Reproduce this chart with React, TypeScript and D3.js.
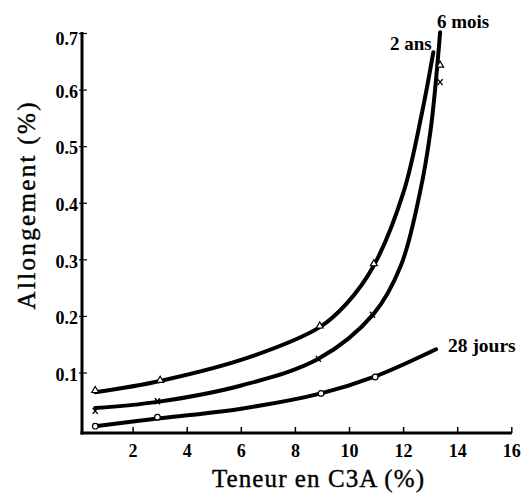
import React from "react";
import * as d3 from "d3";

const xTicks = [2, 4, 6, 8, 10, 12, 14, 16];
const yTicks = [0.1, 0.2, 0.3, 0.4, 0.5, 0.6, 0.7];

// curve paths [C3A %, allongement %]
const curve2ans: [number, number][] = [
  [0.6, 0.066], [3.0, 0.086], [6.3, 0.128], [8.9, 0.181], [9.9, 0.223], [10.9, 0.29],
  [12.0, 0.42], [12.68, 0.56], [13.1, 0.667],
];
const curve6mois: [number, number][] = [
  [0.6, 0.038], [2.9, 0.049], [6.0, 0.078], [8.85, 0.125], [10.9, 0.205],
  [11.9, 0.29], [12.6, 0.418], [13.0, 0.53], [13.35, 0.702],
];
const curve28j: [number, number][] = [
  [0.6, 0.006], [3.0, 0.02], [6.0, 0.037], [8.95, 0.064], [10.9, 0.093], [13.2, 0.142],
];

const pts2ans: [number, number][] = [[0.6, 0.07], [3.0, 0.088], [8.9, 0.184], [10.9, 0.294], [13.35, 0.645]];
const pts6mois: [number, number][] = [[0.6, 0.033], [2.9, 0.05], [8.85, 0.125], [10.85, 0.203], [13.35, 0.614]];
const pts28j: [number, number][] = [[0.6, 0.006], [2.9, 0.022], [8.95, 0.064], [10.95, 0.093]];

const W = 529;
const H = 493;

export default function App() {
  const x = d3.scaleLinear().domain([0, 16]).range([79, 511.8]);
  const y = d3.scaleLinear().domain([0, 0.7]).range([429.6, 33.5]);
  const line = d3
    .line<[number, number]>()
    .x((d) => x(d[0]))
    .y((d) => y(d[1]))
    .curve(d3.curveCatmullRom.alpha(0.5));

  const axisX = 82;
  const axisY = 433;
  const font = "'Liberation Serif', 'Times New Roman', serif";

  return (
    <svg
      width={W}
      height={H}
      style={{ position: "absolute", left: 0, top: 0, background: "#fff" }}
      fontFamily={font}
    >
      <rect x={0} y={0} width={W} height={H} fill="#fff" />
      {[curve2ans, curve6mois, curve28j].map((c, i) => (
        <path key={i} d={line(c) || ""} fill="none" stroke="#000" strokeWidth={4} strokeLinecap="round" />
      ))}
      {pts2ans.map((p, i) => {
        const cx = x(p[0]);
        const cy = y(p[1]);
        return (
          <path
            key={"t" + i}
            d={`M${cx},${cy - 3.5}L${cx + 3.5},${cy + 2.5}L${cx - 3.5},${cy + 2.5}Z`}
            fill="#fff"
            stroke="#000"
            strokeWidth={1.2}
          />
        );
      })}
      {pts6mois.map((p, i) => {
        const cx = x(p[0]);
        const cy = y(p[1]);
        return (
          <path
            key={"x" + i}
            d={`M${cx - 2.5},${cy - 3}L${cx + 2.5},${cy + 3}M${cx + 2.5},${cy - 3}L${cx - 2.5},${cy + 3}`}
            stroke="#000"
            strokeWidth={1.4}
          />
        );
      })}
      {pts28j.map((p, i) => (
        <circle key={"c" + i} cx={x(p[0])} cy={y(p[1])} r={2.8} fill="#fff" stroke="#000" strokeWidth={1.2} />
      ))}

      <line x1={axisX} y1={32} x2={axisX} y2={axisY + 1.5} stroke="#000" strokeWidth={3} />
      <line x1={axisX - 1.5} y1={axisY} x2={x(16)} y2={axisY} stroke="#000" strokeWidth={3} />
      {yTicks.map((t) => (
        <g key={"yt" + t}>
          <line x1={axisX - 3} x2={axisX + 5} y1={y(t)} y2={y(t)} stroke="#000" strokeWidth={1.2} />
          <text
            x={78}
            y={y(t) + (t === 0.7 ? 5 : 1.5)}
            dy="0.35em"
            textAnchor="end"
            fontSize={18}
            fontWeight="bold"
          >
            {t.toFixed(1)}
          </text>
        </g>
      ))}
      {xTicks.map((t) => (
        <g key={"xt" + t}>
          <line x1={x(t)} x2={x(t)} y1={axisY} y2={axisY - 6} stroke="#000" strokeWidth={1.5} />
          <text x={x(t)} y={457} textAnchor="middle" fontSize={18} fontWeight="bold">
            {t}
          </text>
        </g>
      ))}

      <text
        x={318}
        y={487}
        textAnchor="middle"
        fontSize={25}
        textLength={212}
        lengthAdjust="spacing"
        stroke="#000"
        strokeWidth={0.4}
      >
        Teneur en C3A (%)
      </text>
      <text
        transform={`translate(35,206) rotate(-90)`}
        textAnchor="middle"
        fontSize={25}
        textLength={207}
        lengthAdjust="spacing"
        stroke="#000"
        strokeWidth={0.4}
      >
        Allongement (%)
      </text>

      <text x={437} y={28} fontSize={19} fontWeight="bold">6 mois</text>
      <text x={390} y={50} fontSize={19} fontWeight="bold">2 ans</text>
      <text x={448} y={352} fontSize={19.5} fontWeight="bold">28 jours</text>
    </svg>
  );
}
